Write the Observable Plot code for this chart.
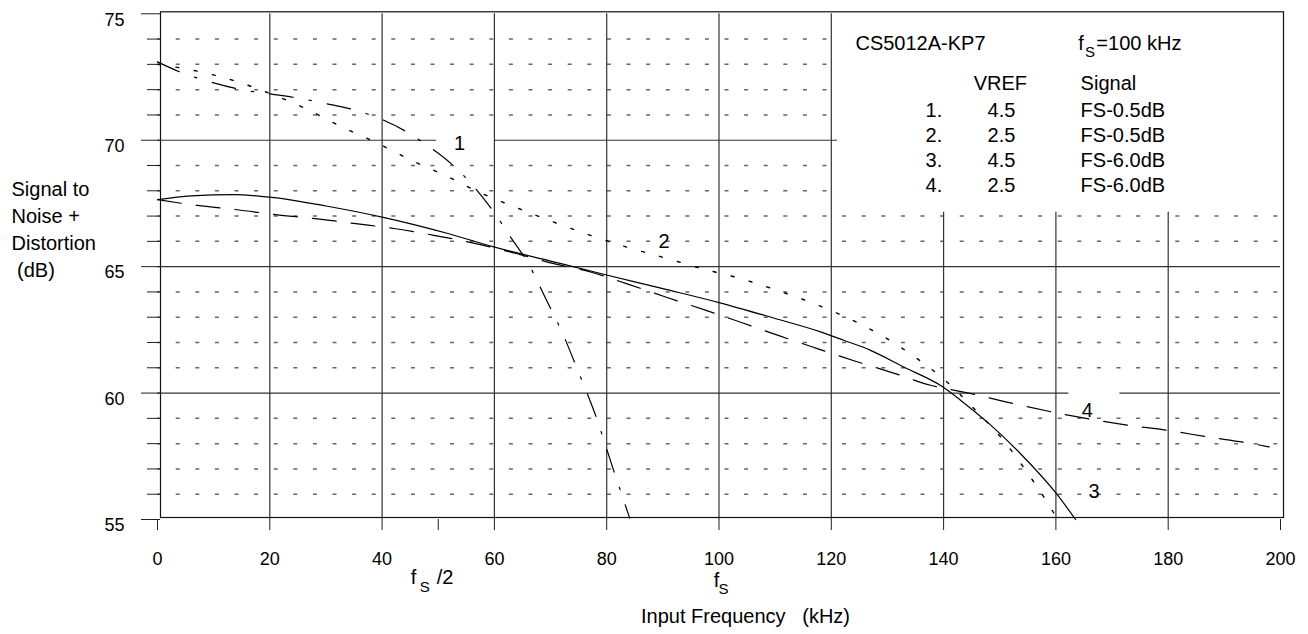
<!DOCTYPE html>
<html>
<head>
<meta charset="utf-8">
<script src="https://cdn.jsdelivr.net/npm/d3@7"></script>
<script src="https://cdn.jsdelivr.net/npm/@observablehq/plot@0.6"></script>
<style>
  html, body { margin: 0; padding: 0; background: #fff; }
  #chart svg { display: block; }
</style>
</head>
<body>
<div id="chart"></div>
<script>
// ---------------- data ----------------
// Curve 1: VREF 4.5, FS-0.5dB
const freq1 = [0, 4, 10, 15, 20, 25, 30, 35, 40, 44, 48, 52, 56, 60, 63, 66, 69, 72, 75, 78, 81, 84.1];
const snd1  = [73.1, 72.7, 72.27, 72.0, 71.83, 71.67, 71.45, 71.2, 70.82, 70.38, 69.8, 69.13, 68.25, 67.13, 66.13, 65.14, 63.8, 62.43, 60.82, 59.13, 57.1, 55.05];
// Curve 2: VREF 2.5, FS-0.5dB
const freq2 = [0, 6.5, 13.6, 20, 26.4, 32.6, 39, 45, 51.3, 57.5, 64.1, 70.6, 77.1, 83.6, 90.5, 97, 103.8, 110.4, 116.9, 123.2, 129.4, 135.3, 140.6, 145.7, 150.4, 154.6, 158.4, 160.2];
const snd2  = [73.0, 72.76, 72.36, 71.85, 71.25, 70.55, 69.9, 69.23, 68.6, 67.92, 67.32, 66.76, 66.24, 65.77, 65.34, 64.92, 64.53, 64.06, 63.54, 62.94, 62.22, 61.36, 60.44, 59.32, 58.2, 56.95, 55.7, 55.04];
// Curve 3: VREF 4.5, FS-6.0dB
const freq3 = [0, 6, 13.6, 20, 30, 40, 51.9, 59.9, 70, 79.8, 90, 100, 110, 118.1, 122.2, 127, 132.9, 139.9, 143, 148.1, 153.7, 160.1, 163.5];
const snd3  = [67.65, 67.8, 67.85, 67.75, 67.4, 66.96, 66.3, 65.78, 65.22, 64.68, 64.13, 63.58, 62.95, 62.42, 62.09, 61.69, 61.03, 60.24, 59.72, 58.79, 57.6, 56.02, 55.0];
// Curve 4: VREF 2.5, FS-6.0dB
const freq4 = [0, 7.1, 14.2, 21, 28.1, 35.3, 42.4, 49.2, 56.3, 63.5, 70.6, 77.1, 83.9, 90.5, 97.3, 104, 110.8, 117.5, 124.3, 131.1, 137.7, 144.5, 151.9, 158.7, 165.6, 172.7, 179.8, 186.9, 194.1, 198];
const snd4  = [67.65, 67.42, 67.25, 67.06, 66.9, 66.7, 66.5, 66.24, 65.93, 65.54, 65.12, 64.79, 64.3, 63.8, 63.3, 62.79, 62.26, 61.76, 61.26, 60.79, 60.31, 60.0, 59.61, 59.28, 58.99, 58.73, 58.53, 58.27, 58.03, 57.87];

// curve labels (number, frequency, dB where the label sits)
const labelIds  = ["1", "2", "3", "4"];
const labelFreq = [53.8, 90.2, 166.8, 165.6];
const labelSnd  = [69.86, 66.0, 56.09, 59.32];

// axis ticks
const xTicks  = [0, 20, 40, 50, 60, 80, 100, 120, 140, 160, 180, 200];
const yMajor  = [55, 60, 65, 70, 75];
const yMinor  = [56, 57, 58, 59, 61, 62, 63, 64, 66, 67, 68, 69, 71, 72, 73, 74];

// grid
const dottedFull  = [56, 57, 58, 59, 61, 62, 63, 64, 66, 67];
const dottedShort = [68, 69, 71, 72, 73, 74];
const vGridFull   = [20, 40, 60, 80, 100, 120];
const vGridPart   = [140, 160, 180];
const solidDb     = [65, 60, 60, 70, 70];
const solidFrom   = [0, 0, 171.4, 0, 60];
const solidTo     = [200, 162.3, 200, 49.7, 121.1];

// legend
const legendTitle  = "CS5012A-KP7";
const legendFs     = ["f", "S", "=100 kHz"];
const legendHead   = ["VREF", "Signal"];
const legendNo     = ["1.", "2.", "3.", "4."];
const legendVref   = ["4.5", "2.5", "4.5", "2.5"];
const legendSignal = ["FS-0.5dB", "FS-0.5dB", "FS-6.0dB", "FS-6.0dB"];

const yTitle = "Signal to\nNoise +\nDistortion\n\u00a0(dB)";
const xTitle = "Input Frequency\u00a0\u00a0\u00a0(kHz)";

// ---------------- build tables ----------------
const toRows = (f, s) => f.map((v, i) => ({f: v, snd: s[i]}));
const curve1 = toRows(freq1, snd1);
const curve2 = toRows(freq2, snd2);
const curve3 = toRows(freq3, snd3);
const curve4 = toRows(freq4, snd4);
const labels = labelIds.map((id, i) => ({id, f: labelFreq[i], snd: labelSnd[i]}));
const solidSegs = solidDb.map((d, i) => ({db: d, from: solidFrom[i], to: solidTo[i]}));
const legendRows = legendNo.map((n, i) => ({n, vref: legendVref[i], sig: legendSignal[i], i}));

const FONT = "'Liberation Sans', Arial, Helvetica, sans-serif";
const gridStroke = "#333";

const chart = Plot.plot({
  width: 1308,
  height: 634,
  marginLeft: 157,
  marginRight: 28,
  marginTop: 13.3,
  marginBottom: 115,
  x: {domain: [0, 200], label: null},
  y: {domain: [55, 75], label: null},
  style: {fontFamily: FONT, fontSize: "18px", color: "#000", background: "#fff", overflow: "visible"},
  marks: [
    // dotted grid
    Plot.ruleY(dottedFull, {x1: 0, x2: 200, stroke: "#666", strokeWidth: 1.5, strokeDasharray: "4,15.6", strokeDashoffset: 0.9}),
    Plot.ruleY(dottedShort, {x1: 0, x2: 120, stroke: "#666", strokeWidth: 1.5, strokeDasharray: "4,15.6", strokeDashoffset: 0.9}),
    // solid grid
    Plot.ruleY(solidSegs, {y: "db", x1: "from", x2: "to", stroke: gridStroke, strokeWidth: 1.2}),
    Plot.ruleX(vGridFull, {y1: 55, y2: 75, stroke: gridStroke, strokeWidth: 1.2}),
    Plot.ruleX(vGridPart, {y1: 55, y2: 67.15, stroke: gridStroke, strokeWidth: 1.2}),
    Plot.frame({dx: 3, dy: -2, stroke: "#111", strokeWidth: 1.2}),
    // axes
    Plot.axisY(yMinor, {tickSize: 13, dx: 3, tickFormat: () => "", label: null, stroke: "#222"}),
    Plot.axisY(yMajor, {tickSize: 19, dx: 3, tickFormat: () => "", label: null, stroke: "#222"}),
    Plot.axisY(yMajor, {tickSize: 0, tickPadding: 33, dy: 6, fontSize: 18, label: null}),
    Plot.axisX(xTicks, {tickSize: 11, tickPadding: 22, fontSize: 18, label: null, stroke: "#222",
      tickFormat: d => d === 50 ? "" : String(d)}),
    // curves
    Plot.line(curve1, {x: "f", y: "snd", curve: "monotone-x", stroke: "#000", strokeWidth: 1.2, strokeDasharray: "24,16,2.5,16"}),
    Plot.line(curve2, {x: "f", y: "snd", curve: "monotone-x", stroke: "#000", strokeWidth: 1.4, strokeDasharray: "3,15.6"}),
    Plot.line(curve3, {x: "f", y: "snd", curve: "monotone-x", stroke: "#000", strokeWidth: 1.2}),
    Plot.line(curve4, {x: "f", y: "snd", curve: "monotone-x", stroke: "#000", strokeWidth: 1.2, strokeDasharray: "24,15"}),
    // curve labels
    Plot.text(labels, {x: "f", y: "snd", text: "id", fontSize: 20}),
    // legend
    Plot.text([legendTitle], {x: 124.3, y: 73.83, text: d => d, textAnchor: "start", fontSize: 20}),
    Plot.text([legendFs[0]], {x: 164.0, y: 73.84, text: d => d, textAnchor: "start", fontSize: 20}),
    Plot.text([legendFs[1]], {x: 165.2, y: 73.5, text: d => d, textAnchor: "start", fontSize: 15}),
    Plot.text([legendFs[2]], {x: 167.2, y: 73.84, text: d => d, textAnchor: "start", fontSize: 20}),
    Plot.text([legendHead[0]], {x: 150.1, y: 72.23, text: d => d, textAnchor: "middle", fontSize: 20}),
    Plot.text([legendHead[1]], {x: 164.4, y: 72.23, text: d => d, textAnchor: "start", fontSize: 20}),
    Plot.text(legendRows, {x: 139.75, y: d => 71.16 - 0.99 * d.i, text: "n", textAnchor: "end", fontSize: 20}),
    Plot.text(legendRows, {x: 150.3, y: d => 71.16 - 0.99 * d.i, text: "vref", textAnchor: "middle", fontSize: 20}),
    Plot.text(legendRows, {x: 164.4, y: d => 71.16 - 0.99 * d.i, text: "sig", textAnchor: "start", fontSize: 20}),
    // f_s/2 and f_s marks below the axis
    Plot.text(["f"], {x: 50, frameAnchor: "bottom", dx: -27.5, dy: 64, text: d => d, textAnchor: "start", fontSize: 20}),
    Plot.text(["S"], {x: 50, frameAnchor: "bottom", dx: -18.5, dy: 72, text: d => d, textAnchor: "start", fontSize: 15}),
    Plot.text(["/2"], {x: 50, frameAnchor: "bottom", dx: -1.5, dy: 64, text: d => d, textAnchor: "start", fontSize: 20}),
    Plot.text(["f"], {x: 100, frameAnchor: "bottom", dx: -5.2, dy: 67, text: d => d, textAnchor: "start", fontSize: 20}),
    Plot.text(["S"], {x: 100, frameAnchor: "bottom", dx: -0.5, dy: 74, text: d => d, textAnchor: "start", fontSize: 15}),
    // axis titles
    Plot.text([xTitle], {frameAnchor: "bottom", dx: 26.5, dy: 103, text: d => d, textAnchor: "middle", fontSize: 20}),
    Plot.text([yTitle], {frameAnchor: "left", dx: -146, dy: -39, text: d => d, textAnchor: "start", lineHeight: 1.36, fontSize: 20})
  ]
});

document.getElementById("chart").appendChild(chart);
</script>
</body>
</html>
